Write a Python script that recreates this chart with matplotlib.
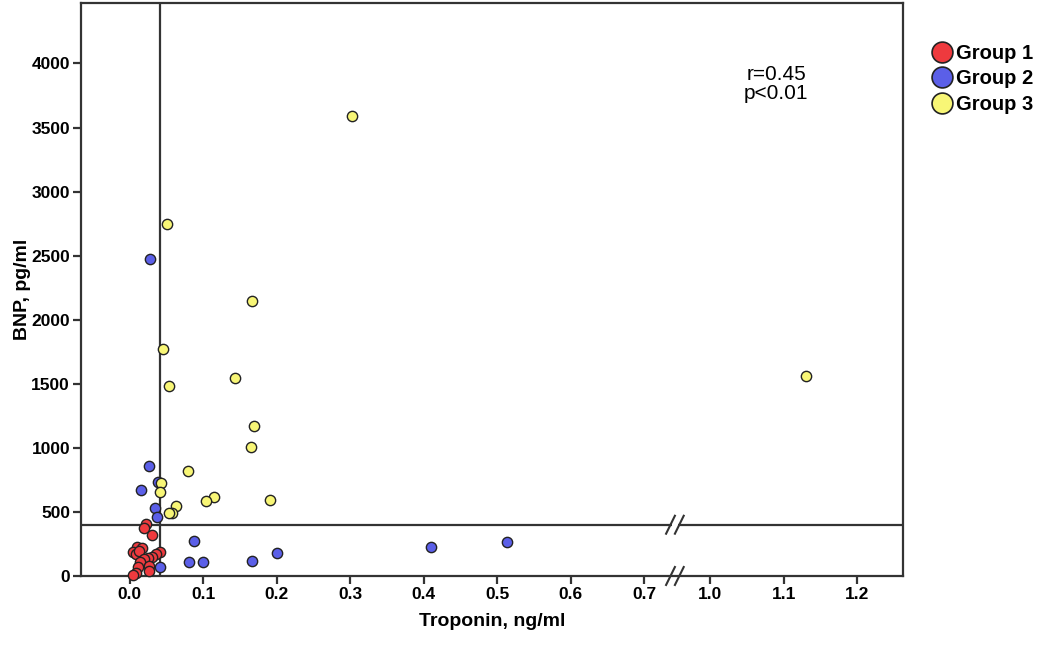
import matplotlib
matplotlib.use("Agg")
import matplotlib.pyplot as plt
from matplotlib.lines import Line2D
import numpy as np

plt.rcParams['font.family'] = ['Liberation Sans', 'DejaVu Sans']

# troponin (ng/ml) and BNP (pg/ml)
g1_trop = [0.022, 0.019, 0.030, 0.010, 0.017, 0.005, 0.009, 0.013, 0.041, 0.036,
           0.030, 0.025, 0.019, 0.014, 0.026, 0.011, 0.027, 0.008, 0.004]
g1_bnp = [404, 378, 321, 223, 220, 189, 171, 197, 186, 168,
          145, 137, 130, 111, 78, 72, 39, 26, 5]

g2_trop = [0.028, 0.027, 0.038, 0.015, 0.034, 0.037, 0.042, 0.088, 0.081, 0.100,
           0.167, 0.200, 0.410, 0.514]
g2_bnp = [2472, 862, 732, 673, 528, 464, 72, 272, 106, 109,
          117, 176, 228, 262]

g3_trop = [0.302, 0.051, 0.167, 0.046, 0.053, 0.143, 1.13, 0.169, 0.165, 0.079,
           0.043, 0.042, 0.115, 0.104, 0.191, 0.063, 0.057, 0.054]
g3_bnp = [3588, 2747, 2149, 1773, 1481, 1543, 1561, 1167, 1004, 823,
          725, 652, 616, 588, 593, 544, 495, 492]

group_names = ['Group 1', 'Group 2', 'Group 3']
group_colors = ['#ee3a3e', '#5b5fe8', '#f8f676']

x_ticks = [0.0, 0.1, 0.2, 0.3, 0.4, 0.5, 0.6, 0.7, 1.0, 1.1, 1.2]
y_ticks = [0, 500, 1000, 1500, 2000, 2500, 3000, 3500, 4000]

trop_cut = 0.042
bnp_cut = 400
gap = 0.21      # the axis skips 0.7 -> 1.0, values >= 1.0 are shifted left by this
break_at = 0.742


def brk(x):
    x = np.asarray(x, dtype=float)
    return np.where(x >= 1.0, x - gap, x)


fig = plt.figure(figsize=(10.4, 6.45), dpi=100)
ax = fig.add_axes([0.078, 0.107, 0.79, 0.888])

edge = '#333333'
ax.axvline(trop_cut, color=edge, lw=1.6, zorder=1)
ax.axhline(bnp_cut, color=edge, lw=1.6, zorder=1)

for xs, ys, c in zip([g1_trop, g2_trop, g3_trop], [g1_bnp, g2_bnp, g3_bnp], group_colors):
    ax.scatter(brk(xs), ys, s=55, c=c, edgecolors='#222222', linewidths=1.0,
               zorder=3, clip_on=False)

ax.set_xlim(-0.066, 1.052)
ax.set_ylim(0, 4470)
ax.set_xticks(brk(x_ticks))
ax.set_xticklabels(['%.1f' % v for v in x_ticks])
ax.set_yticks(y_ticks)
ax.set_yticklabels([str(v) for v in y_ticks])

for sp in ax.spines.values():
    sp.set_color(edge)
    sp.set_linewidth(1.6)
ax.tick_params(length=6, width=1.6, color=edge, labelsize=12.5, pad=2)
for lab in ax.get_xticklabels() + ax.get_yticklabels():
    lab.set_fontweight('bold')

# break marks "//" on the x axis and on the BNP cut line
for yv in [0, bnp_cut]:
    ax.plot([break_at - 0.004, break_at + 0.004], [yv, yv], color='white', lw=4,
            zorder=2, clip_on=False, solid_capstyle='butt')
    for dx in [-0.006, 0.006]:
        ax.plot([break_at + dx - 0.006, break_at + dx + 0.006], [yv - 70, yv + 70],
                color=edge, lw=1.5, zorder=2, clip_on=False)

ax.set_xlabel('Troponin, ng/ml', fontsize=14, fontweight='bold', labelpad=8)
ax.set_ylabel('BNP, pg/ml', fontsize=14, fontweight='bold', labelpad=0)

ax.text(0.88, 3840, 'r=0.45\np<0.01', fontsize=15, ha='center', va='center',
        linespacing=1.0)

handles = [Line2D([], [], marker='o', ls='none', markersize=15, markerfacecolor=c,
                  markeredgecolor='#222222', markeredgewidth=1.2) for c in group_colors]
fig.legend(handles, group_names, loc='upper left', bbox_to_anchor=(0.884, 0.948),
           frameon=False, prop={'weight': 'bold', 'size': 14.5},
           handletextpad=0.1, labelspacing=0.33, borderpad=0, handlelength=1.2)

fig.savefig('out.png', dpi=100)
